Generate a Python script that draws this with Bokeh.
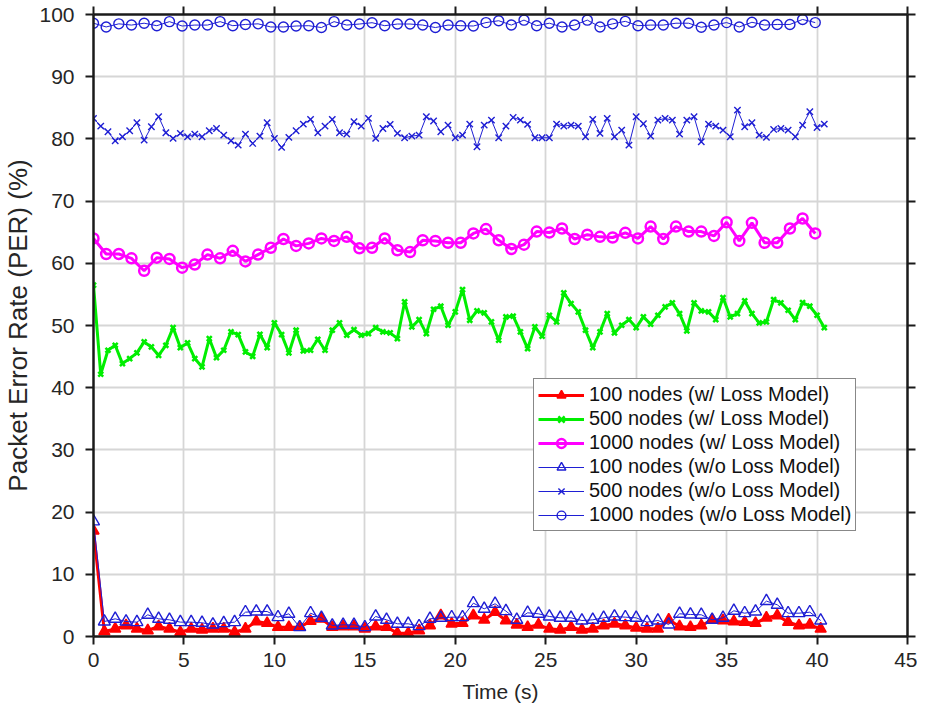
from bokeh.plotting import figure
from bokeh.models import Range1d, LinearAxis, FixedTicker, Legend, LegendItem
from bokeh.embed import file_html
from bokeh.resources import INLINE

# ---- sample times (s) ----
STEP_TRI, N_TRI = 0.6, 68
STEP_X, N_X = 0.4, 102
STEP_O, N_O = 0.7, 58
t_tri = [round(STEP_TRI * i, 2) for i in range(N_TRI)]
t_x = [round(STEP_X * i, 2) for i in range(N_X)]
t_o = [round(STEP_O * i, 2) for i in range(N_O)]

# ---- PER values (%) ----
per_100_loss = [17.0, 0.8, 1.23, 1.77, 1.23, 0.97, 1.61, 1.23, 0.7, 1.23, 1.07, 1.23, 1.23, 0.7, 1.23,
                2.41, 2.15, 1.5, 1.5, 1.5, 2.47, 2.84, 1.5, 1.61, 1.61,
                1.23, 1.61, 1.5, 0.54, 0.54, 0.97, 1.77, 3.38, 2.04, 2.15, 3.38, 2.68, 3.91, 2.57, 1.88,
                1.5, 1.88, 1.23, 1.07, 1.5, 1.07, 1.23, 1.77, 2.04, 1.77, 1.39,
                1.23, 1.23, 2.68, 1.61, 1.5, 1.77, 2.68, 2.57, 2.41, 2.31, 2.15, 3.0, 3.38, 2.31, 1.77, 1.88, 1.23]
per_500_loss = [56.48, 42.16, 46.02, 46.82, 43.87, 44.68, 45.59, 47.36, 46.55, 45.21, 46.82, 49.66, 46.45,
                47.2, 44.68, 43.34, 47.9, 44.84, 46.02, 48.97, 48.54, 45.75, 45.05, 48.59, 46.45, 50.42,
                48.54, 45.59, 49.24, 45.91, 46.02, 47.79, 46.02, 49.24, 50.42, 48.43, 49.34,
                48.43, 48.7, 49.66, 48.97, 48.81, 47.9, 53.79, 49.77, 50.95, 48.7, 52.61, 53.1, 50.04,
                52.19, 55.78, 50.84, 52.35, 52.02, 50.58, 47.63, 51.38, 51.49, 48.97, 46.29, 49.77, 48.27,
                51.65, 50.58, 55.24, 53.53, 52.19, 49.24, 46.45, 48.97, 51.92, 48.81, 50.04, 50.95, 49.66,
                51.38, 50.2, 51.65, 52.99, 53.64, 51.92, 49.13, 53.64, 52.35, 52.19, 50.95, 54.49, 51.38,
                51.92, 53.95, 51.92, 50.42, 50.58, 54.17, 53.64, 52.45, 50.95, 53.69, 53.1, 51.65, 49.66]
per_1000_loss = [64.0, 61.5, 61.5, 60.8, 58.8, 60.9, 60.7, 59.3, 59.8, 61.4, 60.8, 62.0, 60.3, 61.4,
                 62.5, 63.9, 62.8, 63.2, 64.0, 63.6, 64.25, 62.4, 62.5, 64.0, 62.1, 61.8, 63.7, 63.6,
                 63.3, 63.3, 64.8, 65.5, 63.7, 62.3, 63.0, 65.1, 64.95, 65.6, 63.9, 64.6, 64.25, 64.15,
                 64.9, 64.0, 65.9, 63.9, 65.9, 65.1, 65.1, 64.4, 66.6, 63.6, 66.5, 63.3, 63.3, 65.6, 67.2, 64.8]
per_100_noloss = [18.5, 2.41, 2.84, 2.41, 2.31, 3.49, 2.84, 2.68, 2.31, 2.31, 2.2, 1.93, 2.15, 2.31,
                  3.91, 4.02, 4.02, 3.11, 3.65, 1.5, 3.75, 3.0, 1.77, 1.88, 1.88,
                  1.5, 3.22, 2.68, 2.04, 2.04, 1.66, 2.84, 3.0, 3.11, 3.11, 5.36, 4.45, 5.26, 4.08, 2.68,
                  3.81, 3.65, 3.22, 3.0, 3.0, 2.57, 2.68, 3.0, 3.22, 3.11, 3.0,
                  2.31, 2.57, 1.93, 3.65, 3.54, 3.49, 2.68, 3.0, 4.13, 3.75, 4.02, 5.69, 5.1, 3.75, 3.75, 3.91, 2.57]
per_500_noloss = [83.29, 82.06, 81.15, 79.7, 80.34, 81.31, 82.6, 79.81, 81.95, 83.56, 80.99, 80.08, 80.88,
                  80.34, 80.77, 80.34, 81.31, 81.68, 80.61, 79.7, 79.0, 80.77, 79.27, 80.45, 82.6, 80.08,
                  78.63, 80.24, 81.31, 82.38, 83.13, 80.99, 82.06, 83.13, 80.99, 80.77, 82.76,
                  82.06, 83.29, 80.08, 81.68, 82.33, 80.88, 80.18, 80.45, 80.61, 83.56, 82.87, 81.15, 82.22,
                  80.18, 80.61, 82.38, 78.73, 82.22, 83.02, 80.18, 82.06, 83.45, 83.02, 82.33, 80.18, 80.18,
                  80.18, 82.38, 82.06, 82.22, 82.06, 80.34, 83.13, 80.88, 83.29, 80.34, 81.42, 79.0, 83.56,
                  82.44, 80.45, 83.02, 83.29, 83.02, 80.77, 83.02, 83.56, 79.54, 82.38, 82.06, 81.42, 80.34,
                  84.63, 81.95, 82.6, 80.61, 80.24, 81.52, 81.68, 81.42, 80.34, 82.22, 84.36, 81.84, 82.38]
per_1000_noloss = [98.6, 98.0, 98.5, 98.3, 98.6, 98.2, 98.85, 98.15, 98.3, 98.3, 98.85, 98.2, 98.4, 98.5,
                   98.0, 98.0, 98.15, 98.2, 97.9, 98.85, 98.3,
                   98.47, 98.68, 98.2, 98.47, 98.47, 98.3, 97.9, 98.3, 98.2, 98.15, 98.7, 99.0, 98.3, 99.1,
                   98.2, 98.6, 98.0, 98.3, 99.1, 98.0, 98.5, 98.9, 98.2,
                   98.3, 98.3, 98.6, 98.6, 97.95, 98.3, 98.7, 98.0, 98.75, 98.3, 98.4, 98.4, 99.2, 98.7]

labels = ["100 nodes (w/ Loss Model)", "500 nodes (w/ Loss Model)", "1000 nodes (w/ Loss Model)",
          "100 nodes (w/o Loss Model)", "500 nodes (w/o Loss Model)", "1000 nodes (w/o Loss Model)"]
x_ticks = [0, 5, 10, 15, 20, 25, 30, 35, 40, 45]
y_ticks = [0, 10, 20, 30, 40, 50, 60, 70, 80, 90, 100]

FONT = "Liberation Sans"
TXT = "#262626"
RED, GREEN, MAG, BLUE = "#ff0000", "#00ee00", "#ff00ff", "#1f1fd4"

p = figure(frame_width=814, frame_height=622, x_range=Range1d(0, 45), y_range=Range1d(0, 100),
           output_backend="svg", toolbar_location=None,
           min_border_left=92, min_border_right=10, min_border_top=14, min_border_bottom=10,
           background_fill_color="white", border_fill_color="white")
p.outline_line_color = None

for g, t in ((p.xgrid[0], x_ticks), (p.ygrid[0], y_ticks)):
    g.ticker = FixedTicker(ticks=t)
    g.grid_line_color = "#d6d6d6"
    g.grid_line_width = 1.8

def style_axis(ax, ticks, show_labels=True):
    ax.ticker = FixedTicker(ticks=ticks)
    ax.axis_line_color = "#1a1a1a"
    ax.axis_line_width = 2.5
    ax.major_tick_line_color = "#1a1a1a"
    ax.major_tick_line_width = 2.0
    ax.major_tick_out = 8
    ax.major_tick_in = 0
    ax.minor_tick_line_color = None
    ax.major_label_text_font = FONT
    ax.major_label_text_font_size = "21px"
    ax.major_label_text_color = TXT
    ax.axis_label_text_font = FONT
    ax.axis_label_text_font_size = "21px"
    ax.axis_label_text_font_style = "normal"
    ax.axis_label_text_color = TXT
    if not show_labels:
        ax.major_label_overrides = {v: "" for v in ticks}
        ax.major_label_standoff = 0

style_axis(p.xaxis[0], x_ticks)
style_axis(p.yaxis[0], y_ticks)
p.xaxis[0].axis_label = "Time (s)"
p.yaxis[0].axis_label = "Packet Error Rate (PER) (%)"
p.yaxis[0].axis_label_text_font_size = "26px"
p.xaxis[0].major_label_standoff = 8
p.yaxis[0].major_label_standoff = 11
p.xaxis[0].axis_label_standoff = 10
p.yaxis[0].axis_label_standoff = 3

top = LinearAxis()
right = LinearAxis()
style_axis(top, x_ticks, False)
style_axis(right, y_ticks, False)
p.add_layout(top, "above")
p.add_layout(right, "right")

items = []
# 100 nodes w/ loss
l = p.line(t_tri, per_100_loss, line_color=RED, line_width=3)
s = p.scatter(t_tri, per_100_loss, marker="triangle", size=11, fill_color=RED, line_color=RED, line_width=1.5)
items.append(LegendItem(label=labels[0], renderers=[l, s]))
# 500 nodes w/ loss
l = p.line(t_x, per_500_loss, line_color=GREEN, line_width=3)
s = p.scatter(t_x, per_500_loss, marker="x", size=7, line_color=GREEN, line_width=2.5)
items.append(LegendItem(label=labels[1], renderers=[l, s]))
# 1000 nodes w/ loss
l = p.line(t_o, per_1000_loss, line_color=MAG, line_width=3)
s = p.scatter(t_o, per_1000_loss, marker="circle", size=10, fill_color=None, line_color=MAG, line_width=2.5)
items.append(LegendItem(label=labels[2], renderers=[l, s]))
# 100 nodes w/o loss
l = p.line(t_tri, per_100_noloss, line_color=BLUE, line_width=1)
s = p.scatter(t_tri, per_100_noloss, marker="triangle", size=12, fill_color=None, line_color=BLUE, line_width=1.4)
items.append(LegendItem(label=labels[3], renderers=[l, s]))
# 500 nodes w/o loss
l = p.line(t_x, per_500_noloss, line_color=BLUE, line_width=1)
s = p.scatter(t_x, per_500_noloss, marker="x", size=9, line_color=BLUE, line_width=1.4)
items.append(LegendItem(label=labels[4], renderers=[l, s]))
# 1000 nodes w/o loss
l = p.line(t_o, per_1000_noloss, line_color=BLUE, line_width=1)
s = p.scatter(t_o, per_1000_noloss, marker="circle", size=10, fill_color=None, line_color=BLUE, line_width=1.4)
items.append(LegendItem(label=labels[5], renderers=[l, s]))

legend = Legend(items=items, location=(440, 105))
legend.label_text_font = FONT
legend.label_text_font_size = "20px"
legend.label_text_color = "#111111"
legend.glyph_width = 46
legend.glyph_height = 22
legend.label_height = 22
legend.label_standoff = 5
legend.spacing = 1
legend.padding = 4
legend.margin = 0
legend.border_line_color = "#111111"
legend.border_line_width = 1.5
legend.background_fill_color = "white"
legend.background_fill_alpha = 1.0
p.add_layout(legend)

open("out.html", "w").write(file_html(p, INLINE))
